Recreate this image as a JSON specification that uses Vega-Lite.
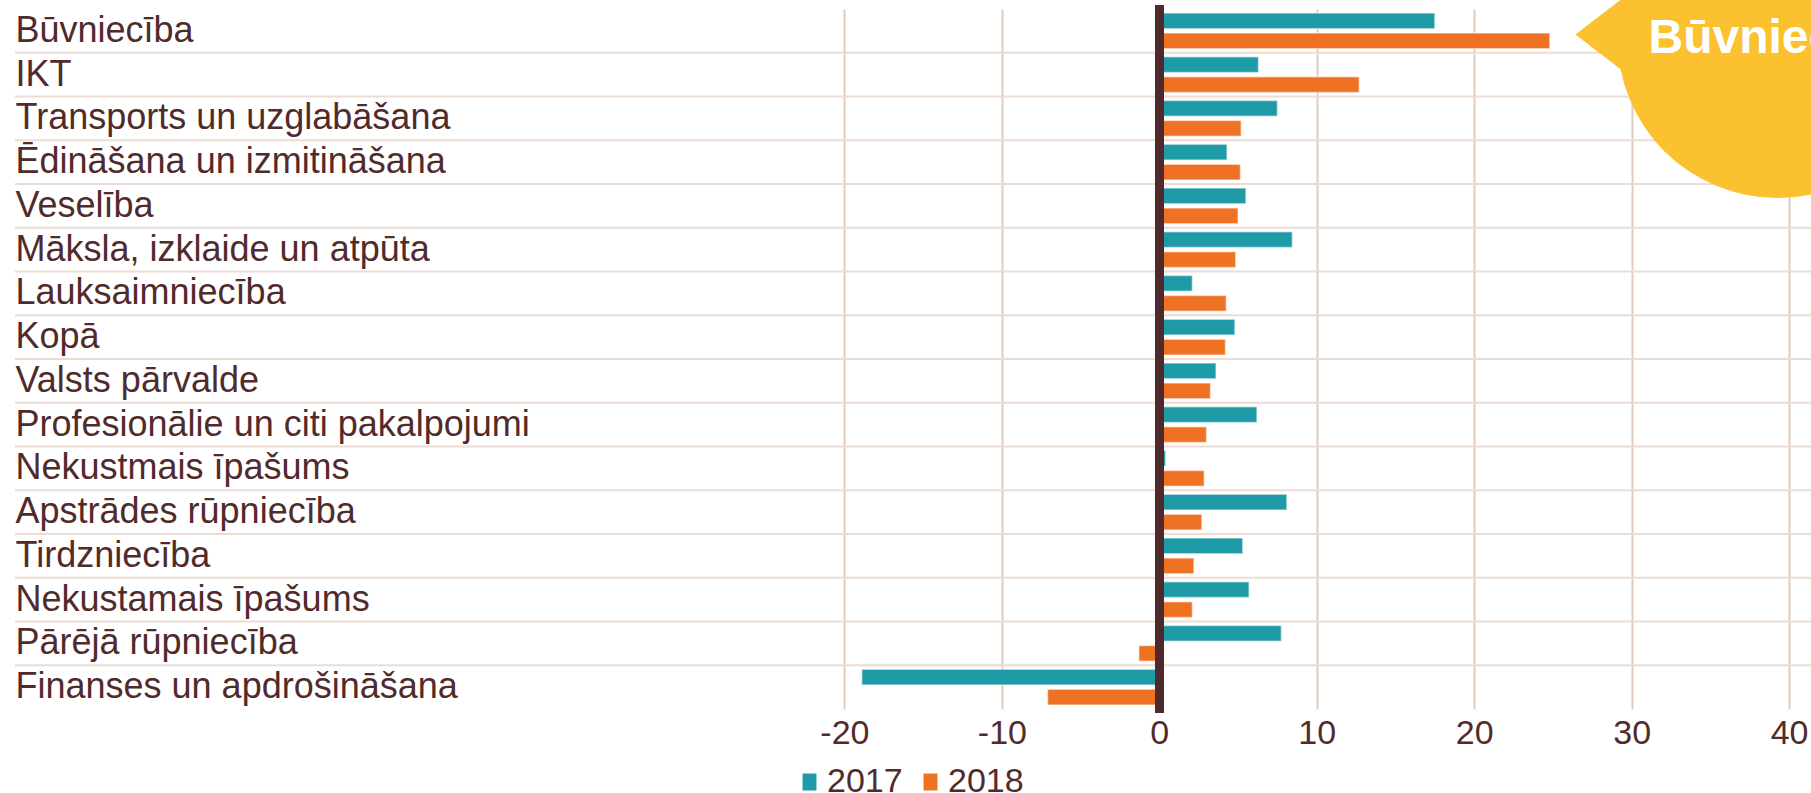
{
  "$schema": "https://vega.github.io/schema/vega-lite/v6.json",
  "width": 1796,
  "height": 700,
  "autosize": {"type": "none"},
  "padding": {"left": 15, "top": 9, "right": 0, "bottom": 84},
  "background": "white",
  "config": {"view": {"stroke": null}, "font": "Liberation Sans"},
  "data": {
    "values": [
      {"nozare": "Būvniecība", "gads": "2017", "v": 17.5},
      {"nozare": "Būvniecība", "gads": "2018", "v": 24.8},
      {"nozare": "IKT", "gads": "2017", "v": 6.3},
      {"nozare": "IKT", "gads": "2018", "v": 12.7},
      {"nozare": "Transports un uzglabāšana", "gads": "2017", "v": 7.5},
      {"nozare": "Transports un uzglabāšana", "gads": "2018", "v": 5.2},
      {"nozare": "Ēdināšana un izmitināšana", "gads": "2017", "v": 4.3},
      {"nozare": "Ēdināšana un izmitināšana", "gads": "2018", "v": 5.15},
      {"nozare": "Veselība", "gads": "2017", "v": 5.5},
      {"nozare": "Veselība", "gads": "2018", "v": 5.0},
      {"nozare": "Māksla, izklaide un atpūta", "gads": "2017", "v": 8.45},
      {"nozare": "Māksla, izklaide un atpūta", "gads": "2018", "v": 4.85},
      {"nozare": "Lauksaimniecība", "gads": "2017", "v": 2.1},
      {"nozare": "Lauksaimniecība", "gads": "2018", "v": 4.25},
      {"nozare": "Kopā", "gads": "2017", "v": 4.8},
      {"nozare": "Kopā", "gads": "2018", "v": 4.2},
      {"nozare": "Valsts pārvalde", "gads": "2017", "v": 3.6},
      {"nozare": "Valsts pārvalde", "gads": "2018", "v": 3.25},
      {"nozare": "Profesionālie un citi pakalpojumi", "gads": "2017", "v": 6.2},
      {"nozare": "Profesionālie un citi pakalpojumi", "gads": "2018", "v": 3.0},
      {"nozare": "Nekustmais īpašums", "gads": "2017", "v": 0.4},
      {"nozare": "Nekustmais īpašums", "gads": "2018", "v": 2.85},
      {"nozare": "Apstrādes rūpniecība", "gads": "2017", "v": 8.1},
      {"nozare": "Apstrādes rūpniecība", "gads": "2018", "v": 2.7},
      {"nozare": "Tirdzniecība", "gads": "2017", "v": 5.3},
      {"nozare": "Tirdzniecība", "gads": "2018", "v": 2.2},
      {"nozare": "Nekustamais īpašums", "gads": "2017", "v": 5.7},
      {"nozare": "Nekustamais īpašums", "gads": "2018", "v": 2.1},
      {"nozare": "Pārējā rūpniecība", "gads": "2017", "v": 7.75},
      {"nozare": "Pārējā rūpniecība", "gads": "2018", "v": -1.3},
      {"nozare": "Finanses un apdrošināšana", "gads": "2017", "v": -18.9},
      {"nozare": "Finanses un apdrošināšana", "gads": "2018", "v": -7.1}
    ]
  },
  "layer": [
    {
      "transform": [{"filter": "datum.gads == '2017' && datum.nozare != 'Būvniecība'"}],
      "mark": {"type": "rule", "stroke": "#ecdcd1", "strokeWidth": 2},
      "encoding": {
        "y": {"field": "nozare", "type": "nominal", "bandPosition": 0, "sort": null}
      }
    },
    {
      "mark": {"type": "bar", "stroke": "white", "strokeOpacity": 0.5, "strokeWidth": 1.5},
      "encoding": {
        "y": {
          "field": "nozare", "type": "nominal", "sort": null,
          "scale": {"paddingInner": 0, "paddingOuter": 0, "domain": ["Būvniecība", "IKT", "Transports un uzglabāšana", "Ēdināšana un izmitināšana", "Veselība", "Māksla, izklaide un atpūta", "Lauksaimniecība", "Kopā", "Valsts pārvalde", "Profesionālie un citi pakalpojumi", "Nekustmais īpašums", "Apstrādes rūpniecība", "Tirdzniecība", "Nekustamais īpašums", "Pārējā rūpniecība", "Finanses un apdrošināšana"]},
          "axis": {"title": null, "domain": false, "ticks": false, "grid": false, "labelAlign": "left", "labelPadding": 0, "labelFontSize": 36, "labelColor": "#512b2b", "labelFont": "Liberation Sans", "labelLimit": 0}
        },
        "yOffset": {"field": "gads", "type": "nominal", "scale": {"paddingInner": 0.22, "paddingOuter": 0.204}},
        "x": {
          "field": "v", "type": "quantitative", "stack": null,
          "scale": {"domain": [-72.68, 41.39], "nice": false, "zero": false},
          "axis": {"values": [-20, -10, 0, 10, 20, 30, 40], "labelExpr": "datum.value", "title": null, "domain": false, "ticks": false, "grid": true, "gridColor": "#e1cdc0", "gridWidth": 2, "labelFontSize": 34, "labelColor": "#512b2b", "labelPadding": 7, "labelFlush": false, "labelFont": "Liberation Sans"}
        },
        "color": {
          "field": "gads", "type": "nominal",
          "scale": {"domain": ["2017", "2018"], "range": ["#1f9ba7", "#ee7124"]},
          "legend": {"orient": "none", "legendX": 777.5, "legendY": 756, "direction": "horizontal", "title": null, "labelFontSize": 34, "labelColor": "#512b2b", "labelFont": "Liberation Sans", "symbolType": "M-0.82,-1H0.82V1H-0.82Z", "symbolSize": 289, "symbolStrokeWidth": 0, "labelOffset": 0.5, "columnPadding": 10, "padding": 0}
        }
      }
    },
    {
      "mark": {"type": "rule", "stroke": "#4f2a2c", "strokeWidth": 8, "strokeCap": "square"},
      "encoding": {"x": {"datum": 0}}
    },
    {
      "data": {"values": [{"t": "Būvniecība"}]},
      "mark": {"type": "point", "shape": "M-1,0L0.3,-1L0.3,1Z", "filled": true, "fill": "#fbc12e", "opacity": 1, "size": 17424, "strokeWidth": 0},
      "encoding": {"x": {"datum": 30.62}, "y": {"datum": "Būvniecība", "bandPosition": 0.584}}
    },
    {
      "data": {"values": [{"t": "Būvniecība"}]},
      "mark": {"type": "point", "shape": "circle", "filled": true, "fill": "#fbc12e", "opacity": 1, "size": 102400, "strokeWidth": 0},
      "encoding": {"x": {"datum": 39.26}, "y": {"datum": "Būvniecība", "bandPosition": 0.663}}
    },
    {
      "data": {"values": [{"t": "Būvniecība"}]},
      "mark": {"type": "text", "align": "left", "baseline": "alphabetic", "fontSize": 48, "fontWeight": "bold", "color": "white", "font": "Liberation Sans"},
      "encoding": {"x": {"datum": 31.07}, "y": {"datum": "Būvniecība", "bandPosition": 1}, "text": {"field": "t"}}
    }
  ]
}
